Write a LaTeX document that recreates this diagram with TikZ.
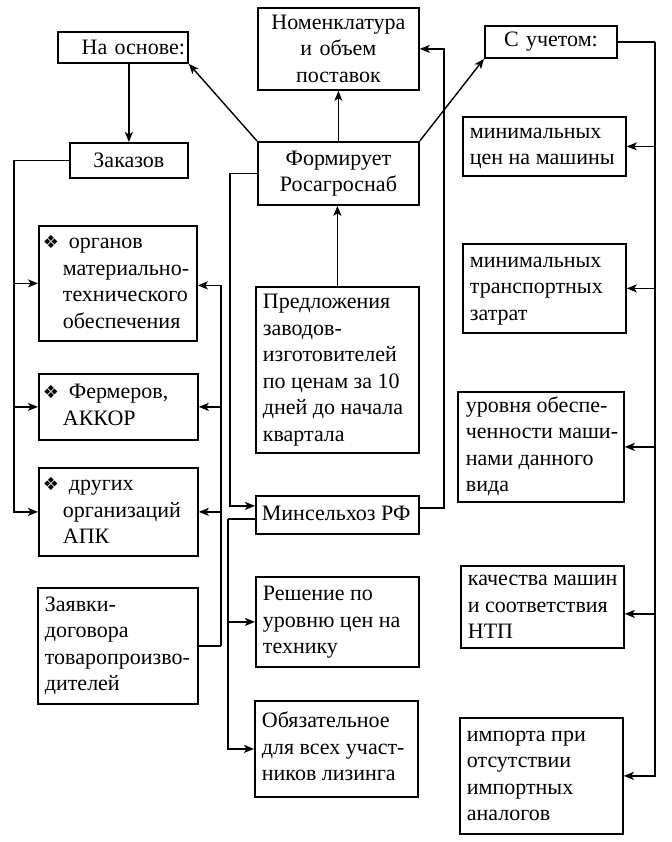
\documentclass[tikz,border=0pt]{standalone}
\usepackage{fontspec}
\setmainfont{Liberation Serif}
\newfontfamily\dejavu{DejaVu Sans}
\usetikzlibrary{arrows.meta}
\newcommand\mydiam{\makebox[26pt][l]{\dejavu\fontsize{18}{18}\selectfont ❖}}
\newcommand\myind{\hspace*{20pt}}
\newcommand\tb[2]{\makebox[#1][l]{\begin{tabular}{@{}l@{}}#2\end{tabular}}}
\begin{document}
\begin{tikzpicture}[x=1pt,y=-1pt,
  box/.style={draw,line width=1.8pt,anchor=north west,inner xsep=7pt,inner ysep=0pt,
    align=left,font=\fontsize{22}{26.5}\selectfont},
  conn/.style={line width=1.4pt},
  arr/.style={conn,-{Stealth[length=10pt,width=8pt,inset=2.5pt]}}]
\useasboundingbox[fill=white] (0,0) rectangle (671,842);

% top / centre column
\node[box,align=right,inner xsep=3pt,minimum width=130pt,text width=124pt,minimum height=31pt] (na) at (57,31) {На основе:};
\node[box,align=center,minimum width=118pt,text width=104pt,minimum height=35pt] (zak) at (69,142) {Заказов};
\node[box,align=center,minimum width=161pt,text width=147pt,minimum height=82pt] (nom) at (257,7) {Номенклатура\\и объем\\поставок};
\node[box,align=center,minimum width=161pt,text width=147pt,minimum height=63pt] (fr) at (257,141) {Формирует\\Росагроснаб};
\node[box,align=center,minimum width=132pt,text width=118pt,minimum height=32pt] (su) at (484,25) {С учетом:};
\node[box,minimum width=163pt,minimum height=166pt] (pr) at (255,286) {\tb{149pt}{Предложения\\заводов-\\изготовителей\\по ценам за 10\\дней до начала\\квартала}};
\node[box,inner xsep=6pt,minimum width=163pt,minimum height=38pt] (min) at (255,495) {\tb{151pt}{Минсельхоз РФ}};
\node[box,minimum width=163pt,minimum height=90pt] (res) at (255,576) {\tb{149pt}{Решение по\\уровню цен на\\технику}};
\node[box,minimum width=163pt,minimum height=96pt] (obz) at (254,700) {\tb{149pt}{Обязательное\\для всех участ-\\ников лизинга}};

% left column
\node[box,inner xsep=4pt,minimum width=158pt,minimum height=115pt] (org) at (38,225) {\tb{150pt}{\mydiam органов\\\myind материально-\\\myind технического\\\myind обеспечения}};
\node[box,inner xsep=4pt,minimum width=159pt,minimum height=66pt] (fer) at (38,373) {\tb{151pt}{\mydiam Фермеров,\\\myind АККОР}};
\node[box,inner xsep=4pt,minimum width=159pt,minimum height=88pt] (dr) at (38,467) {\tb{151pt}{\mydiam других\\\myind организаций\\\myind АПК}};
\node[box,minimum width=160pt,minimum height=116pt] (zay) at (37,587) {\tb{146pt}{Заявки-\\договора\\товаропроизво-\\дителей}};

% right column
\node[box,minimum width=163pt,minimum height=59pt] (r1) at (462,116) {\tb{149pt}{минимальных\\цен на машины}};
\node[box,minimum width=163pt,minimum height=89pt] (r2) at (462,243) {\tb{149pt}{минимальных\\транспортных\\затрат}};
\node[box,inner xsep=8pt,minimum width=166pt,minimum height=110pt] (r3) at (457,391) {\tb{150pt}{уровня обеспе-\\ченности маши-\\нами данного\\вида}};
\node[box,minimum width=163pt,minimum height=82pt] (r4) at (460,565) {\tb{149pt}{качества машин\\и соответствия\\НТП}};
\node[box,minimum width=163pt,minimum height=116pt] (r5) at (459,717) {\tb{149pt}{импорта при\\отсутствии\\импортных\\аналогов}};

% connectors
\draw[arr] (na.south -| zak.north) -- (zak.north);
\draw[arr] (fr.north west) -- (na.south east);
\draw[arr] (fr.north) -- (nom.south);
\draw[arr] (fr.north east) -- (su.south west);
\draw[arr] (pr.north) -- (pr.north |- fr.south);
\draw[arr] ([yshift=7pt]min.east) -- ++(24,0) |- (nom.east);
\draw[arr] (fr.west) -- ++(-27,0) |- ([yshift=9pt]min.west);
\draw[conn] ([yshift=-4pt]min.west) -- ++(-27,0) coordinate (m1);
\draw[arr] (m1) |- (res.west);
\draw[arr] (m1) |- (obz.west);

\draw[conn] (zak.west) -- ++(-55,0) coordinate (z1);
\draw[arr] (z1) |- (org.west);
\draw[arr] (z1) |- (fer.west);
\draw[arr] (z1) |- (dr.west);

\draw[conn] (zay.east) -- ++(22,0) coordinate (z2);
\draw[arr] (z2) |- ([yshift=-2pt]org.east);
\draw[arr] (z2) |- (fer.east);
\draw[arr] (z2) |- (dr.east);

\draw[conn] (su.east) -- ++(37,0) coordinate (s1);
\draw[arr] (s1) |- (r1.east);
\draw[arr] (s1) |- (r2.east);
\draw[arr] (s1) |- (r3.east);
\draw[arr] (s1) |- ([yshift=-7pt]r4.east);
\draw[arr] (s1) |- (r5.east);
\end{tikzpicture}
\end{document}
